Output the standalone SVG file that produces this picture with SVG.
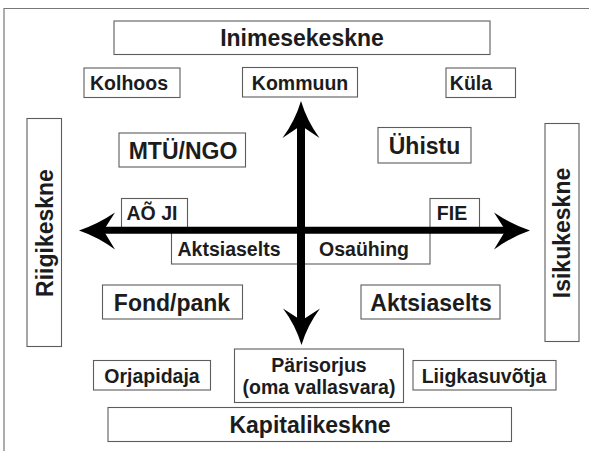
<svg xmlns="http://www.w3.org/2000/svg" width="589" height="451" viewBox="0 0 589 451">
  <style>
    .box { fill: #ffffff; stroke: #5c5c5c; stroke-width: 1.1; }
    .t { font-family: "Liberation Sans", Arial, sans-serif; font-weight: bold; fill: #1c1c1c; text-anchor: middle; dominant-baseline: central; }
    .sm { font-size: 19.5px; }
    .lg { font-size: 23px; }
    .axis { stroke: #000; fill: none; }
    .head { fill: #000; }
  </style>
  <rect width="589" height="451" fill="#ffffff"/>
  <!-- outer frame: only the top and left edges fall inside the page -->
  <path d="M4,451 V8.5 H589" fill="none" stroke="#777" stroke-width="1.2"/>

  <g id="inimesekeskne"><rect class="box" x="114" y="21" width="376" height="33.5"/><text class="t lg" x="302" y="38">Inimesekeskne</text></g>
  <g id="kolhoos"><rect class="box" x="84" y="68" width="96" height="29.5"/><text class="t sm" x="129" y="83">Kolhoos</text></g>
  <g id="kommuun"><rect class="box" x="242.5" y="67.5" width="115" height="29.5"/><text class="t sm" x="300" y="82.5">Kommuun</text></g>
  <g id="kula"><rect class="box" x="446" y="68" width="69.5" height="29.5"/><text class="t sm" x="471" y="83">Küla</text></g>

  <g id="mtu"><rect class="box" x="119" y="133" width="126.5" height="34"/><text class="t lg" x="183" y="150.5">MTÜ/NGO</text></g>
  <g id="uhistu"><rect class="box" x="378" y="127.5" width="93" height="35.5"/><text class="t lg" x="424.5" y="145.5">Ühistu</text></g>

  <g id="riigikeskne"><rect class="box" x="27" y="118.5" width="34.5" height="228"/><text class="t lg" font-size="22.5" transform="translate(44.5,233) rotate(-90)">Riigikeskne</text></g>
  <g id="isikukeskne"><rect class="box" x="545" y="123.5" width="34" height="218"/><text class="t lg" transform="translate(562,233) rotate(-90)">Isikukeskne</text></g>

  <g id="aoji"><rect class="box" x="121.5" y="198.5" width="66" height="30"/><text class="t sm" x="152" y="213">AÕ JI</text></g>
  <g id="fie"><rect class="box" x="430" y="198.5" width="49.5" height="30"/><text class="t sm" x="452" y="213">FIE</text></g>
  <g id="aktsiaselts-kesk"><rect class="box" x="171.5" y="232" width="130" height="32"/><text class="t sm" x="229" y="249">Aktsiaselts</text></g>
  <g id="osauhing"><rect class="box" x="301.5" y="232" width="128.5" height="32"/><text class="t sm" x="364" y="249">Osaühing</text></g>

  <g id="fond"><rect class="box" x="102.5" y="285" width="140" height="34"/><text class="t lg" x="172" y="302.5">Fond/pank</text></g>
  <g id="aktsiaselts"><rect class="box" x="361" y="285" width="139" height="34"/><text class="t lg" x="431" y="302.5">Aktsiaselts</text></g>

  <g id="orjapidaja"><rect class="box" x="93.5" y="360.5" width="117" height="29.5"/><text class="t sm" x="152" y="375.5">Orjapidaja</text></g>
  <g id="parisorjus"><rect class="box" x="234.5" y="349" width="169" height="53.5"/><text class="t sm" x="319" y="365">Pärisorjus</text><text class="t sm" x="319" y="386.5">(oma vallasvara)</text></g>
  <g id="liigkasuvotja"><rect class="box" x="413" y="360.5" width="143" height="29.5"/><text class="t sm" x="484" y="375.5">Liigkasuvõtja</text></g>

  <g id="kapitalikeskne"><rect class="box" x="108" y="407.5" width="403.5" height="34"/><text class="t lg" x="310" y="425">Kapitalikeskne</text></g>

  <!-- axes with swept arrowheads -->
  <g id="connectors">
    <line class="axis" stroke-width="8" x1="301" y1="124" x2="301" y2="322"/>
    <line class="axis" stroke-width="7" x1="102" y1="230.3" x2="507" y2="230.3"/>
    <path class="head" d="M301,101 Q295,121 282.5,138 L301,125.5 L319.5,138 Q307,121 301,101 Z"/>
    <path class="head" d="M301.5,345 Q295.5,325 283,308.5 L301.5,320.5 L320,308.5 Q307.5,325 301.5,345 Z"/>
    <path class="head" d="M79,230.5 Q98,224 115,212.5 L103.5,230.5 L115,249.5 Q98,237 79,230.5 Z"/>
    <path class="head" d="M530,230.5 Q511,224 494,212.5 L505.5,230.5 L494,249.5 Q511,237 530,230.5 Z"/>
  </g>
</svg>
